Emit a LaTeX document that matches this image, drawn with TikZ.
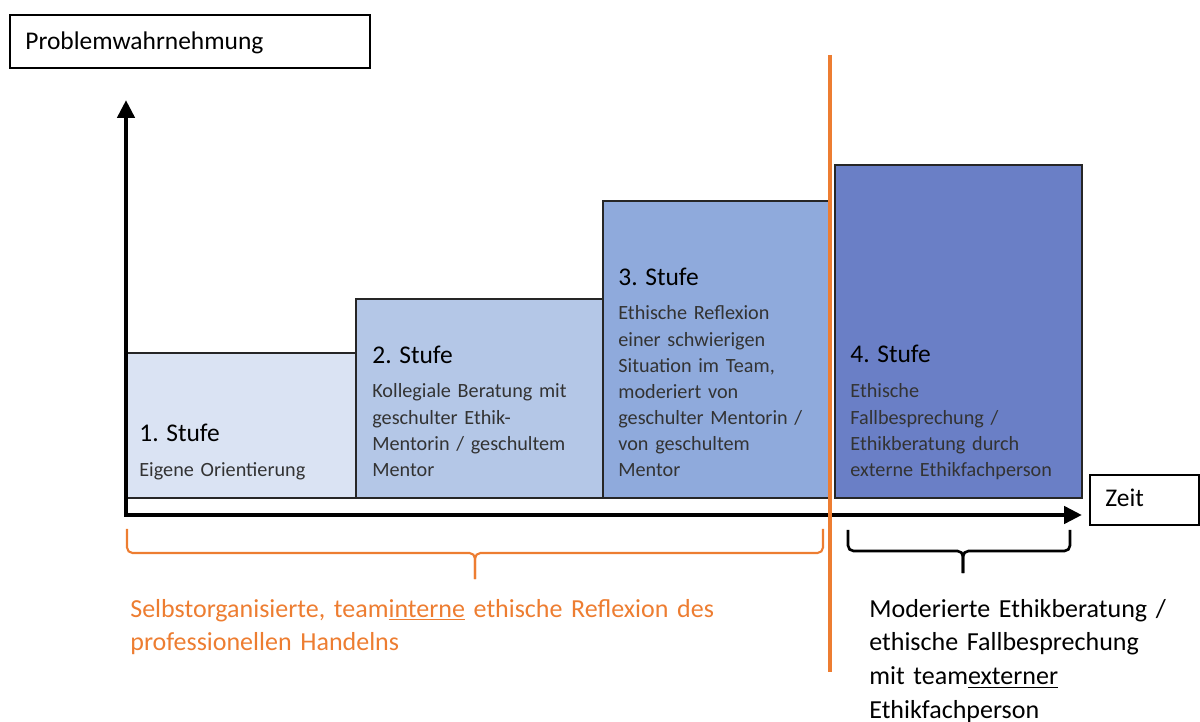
\documentclass[tikz,border=0pt]{standalone}
\usepackage{fontspec}
\setmainfont{Carlito}
\usetikzlibrary{arrows.meta}
\definecolor{stufeeins}{HTML}{DAE3F3}
\definecolor{stufezwei}{HTML}{B4C7E7}
\definecolor{stufedrei}{HTML}{8FAADC}
\definecolor{stufevier}{HTML}{6A7FC6}
\definecolor{grenze}{HTML}{ED7D31}
\tikzset{
  kasten/.style={draw=black!85, line width=0.8pt},
  rahmen/.style={draw=black, line width=0.8pt},
  titel/.style={anchor=base west, inner sep=0pt, font=\fontsize{14.5}{17}\selectfont},
  beschr/.style={anchor=base west, inner sep=0pt, align=left, text width=6cm, text=black!80, font=\fontsize{11.5}{14.8}\selectfont},
  fuss/.style={anchor=base west, inner sep=0pt, align=left, text width=13cm, font=\fontsize{14.8}{19.2}\selectfont},
  achse/.style={line width=2.8pt, >={Triangle[length=0.36cm,width=0.34cm]}},
  klammer/.style={rounded corners=0.11cm}
}
\begin{document}
\begin{tikzpicture}[x=0.02cm, y=-0.02cm]
\useasboundingbox (0,0) rectangle (1200,722);
% Achsenbeschriftung
\draw [rahmen] (10,15) rectangle (370,68);
\node [titel] (problem) at (25,50) {Problemwahrnehmung};
\draw [rahmen] (1090,475) rectangle (1199,525);
\node [titel] (zeit) at (1105,507) {Zeit};
% Stufen
\draw [kasten, fill=stufeeins] (127,353) rectangle (356,498);
\draw [kasten, fill=stufezwei] (356,299) rectangle (603,498);
\draw [kasten, fill=stufedrei] (603,201) rectangle (830,498);
\draw [kasten, fill=stufevier] (835,165) rectangle (1082,498);
\node [titel] (s1) at (139,442) {1. Stufe};
\node [beschr] (b1) at (139,477) {Eigene Orientierung};
\node [titel] (s2) at (372,364) {2. Stufe};
\node [beschr] (b2) at (372,398) {Kollegiale Beratung mit\\ geschulter Ethik-\\ Mentorin / geschultem\\ Mentor};
\node [titel] (s3) at (618,286) {3. Stufe};
\node [beschr] (b3) at (618,320) {Ethische Reflexion\\ einer schwierigen\\ Situation im Team,\\ moderiert von\\ geschulter Mentorin /\\ von geschultem\\ Mentor};
\node [titel] (s4) at (850,363) {4. Stufe};
\node [beschr] (b4) at (850,398) {Ethische\\ Fallbesprechung /\\ Ethikberatung durch\\ externe Ethikfachperson};
% Achsen
\coordinate (O) at (126,515);
\coordinate (ytip) at (126,100);
\coordinate (xtip) at (1082,515);
\draw [achse, <->] (ytip) -- (O) -- (xtip);
% Trennlinie
\coordinate (oben) at (830,55);
\coordinate (unten) at (830,672);
\draw [grenze, line width=2.3pt] (oben) -- (unten);
% Klammern
\coordinate (k1a) at (127,529);
\coordinate (k1b) at (823,529);
\coordinate (k1m) at (475,553);
\coordinate (k1s) at (475,579);
\draw [klammer, grenze, line width=1.2pt] (k1a) |- (k1m) -- (k1s);
\draw [klammer, grenze, line width=1.2pt] (k1b) |- (k1m) -- (k1s);
\coordinate (k2a) at (848,530);
\coordinate (k2b) at (1070,530);
\coordinate (k2m) at (963,551);
\coordinate (k2s) at (963,573);
\draw [klammer, black, line width=1.5pt] (k2a) |- (k2m) -- (k2s);
\draw [klammer, black, line width=1.5pt] (k2b) |- (k2m) -- (k2s);
\node [fuss, text=grenze] (intern) at (130,617) {Selbstorganisierte, team\underline{interne} ethische Reflexion des\\ professionellen Handelns};
\node [fuss] (extern) at (869,617) {Moderierte Ethikberatung /\\ ethische Fallbesprechung\\ mit team\underline{externer}\\ Ethikfachperson};
\end{tikzpicture}
\end{document}
